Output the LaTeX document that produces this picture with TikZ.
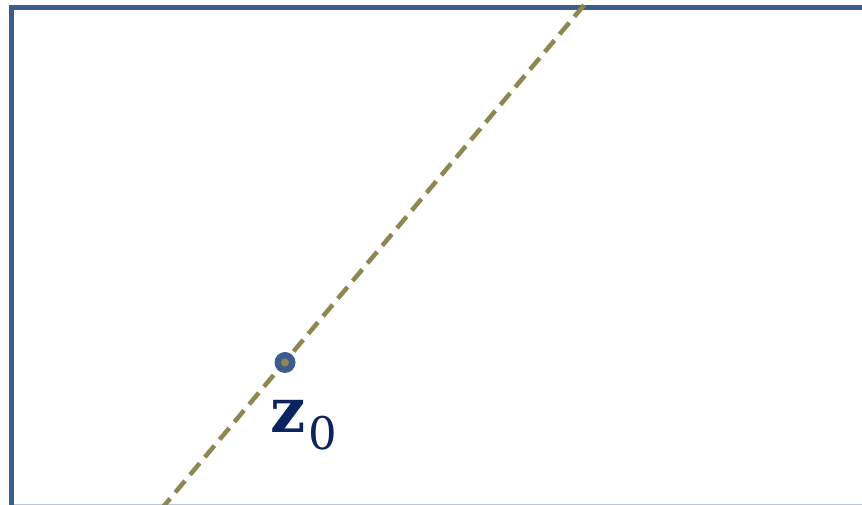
\documentclass[tikz,border=0pt]{standalone}
\usepackage{fontspec}
\setmainfont{DejaVu Serif}
\definecolor{frameblue}{HTML}{3D5D8C}
\definecolor{olive}{HTML}{8E8850}
\definecolor{navy}{HTML}{0B2460}
\begin{document}
\begin{tikzpicture}[x=1pt,y=1pt,
  frame/.style={draw=frameblue,line width=5pt},
  dline/.style={draw=olive,line width=4.5pt,dash pattern=on 15pt off 8pt},
  ptouter/.style={circle,fill=frameblue,inner sep=0pt,minimum size=21pt},
  ptinner/.style={circle,fill=olive,inner sep=0pt,minimum size=8pt}]
\useasboundingbox (0,0) rectangle (862,505);
\begin{scope}
\clip (0,0) rectangle (862,505);
\coordinate (bl) at (11.5,0.6);
\coordinate (br) at (880,0.6);
\draw[frameblue!35,line width=1.2pt] (bl) -- (br);
\draw[frame] (11.5,-2.6) rectangle (880,497);
\coordinate (lstart) at (160.5,-5);
\coordinate (lend) at (592.5,510);
\draw[dline] (lstart) -- (lend);
\end{scope}
\node[ptouter] (z0pt) at (285,142.5) {};
\node[ptinner] (z0in) at (z0pt) {};
\node[anchor=base west,inner sep=0pt,text=navy,font=\fontsize{62}{62}\selectfont] (z0) at (270,72)
  {\textbf{z}\hspace{3pt}\raisebox{-17pt}{\fontsize{45}{45}\selectfont 0}};
\end{tikzpicture}
\end{document}
